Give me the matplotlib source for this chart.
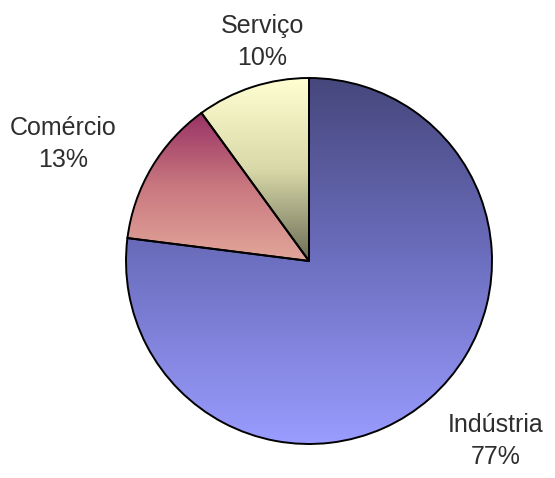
import numpy as np
import matplotlib
matplotlib.use("Agg")
import matplotlib.pyplot as plt
from matplotlib.colors import LinearSegmentedColormap

# sector shares
labels = ["Indústria", "Comércio", "Serviço"]
shares = [77, 13, 10]

# gradient colours per wedge (top -> bottom)
grad_colors = [
    ["#46477c", "#6d6fc0", "#9a9cff"],
    ["#983265", "#c9787f", "#e2a69a"],
    ["#ffffd2", "#d8d8a8", "#6c6d56"],
]

plt.rcParams['font.family'] = ['Liberation Sans', 'DejaVu Sans']

fig = plt.figure(figsize=(5.55, 4.78), dpi=100)
ax = fig.add_axes([0, 0, 1, 1])

wedges, _ = ax.pie(shares, startangle=90, counterclock=False,
                   center=(309, 217), radius=183, frame=True,
                   wedgeprops=dict(edgecolor='black', linewidth=1.4, facecolor='none'))
ax.set_xlim(0, 555)
ax.set_ylim(0, 478)
ax.axis('off')

grad = np.linspace(0, 1, 256).reshape(-1, 1)
for w, cols in zip(wedges, grad_colors):
    ext = w.get_path().get_extents()
    cmap = LinearSegmentedColormap.from_list("g", cols)
    im = ax.imshow(grad, cmap=cmap, aspect='auto', origin='upper',
                   extent=[ext.x0, ext.x1, ext.y0, ext.y1], zorder=0.5)
    im.set_clip_path(w)
    w.set_zorder(1)

txt = dict(fontsize=18, color='#2e2e2e', ha='center', va='center', linespacing=1.4)
ax.text(262, 478 - 42, "Serviço\n10%", **txt)
ax.text(63, 478 - 144, "Comércio\n13%", **txt)
ax.text(496, 478 - 441, "Indústria\n77%", **txt)

fig.savefig("out.png", dpi=100)
